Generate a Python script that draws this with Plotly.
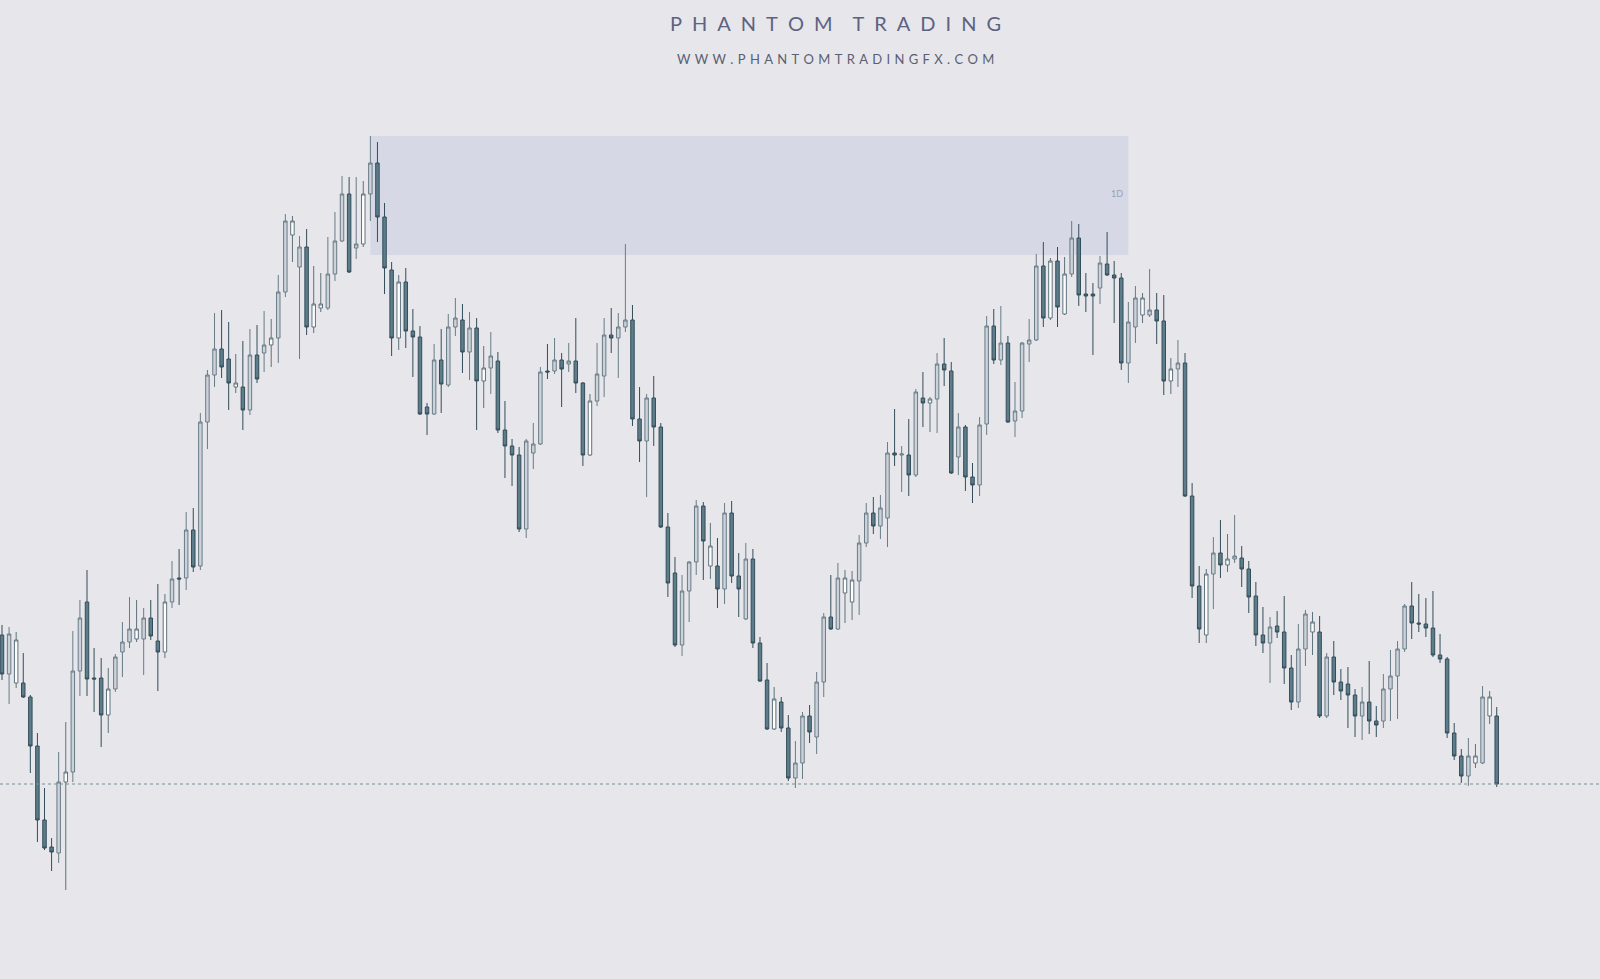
import plotly.graph_objects as go

# ---- data (price units) ----
opens = [365, 326, 317, 317, 303, 254, 180, 153, 147, 218,
         228, 329, 398, 322, 322, 285, 311, 348, 358, 361,
         361, 382, 359, 348, 398, 422, 422, 470, 434, 578,
         625, 651, 641, 613, 613, 590, 645, 647, 655, 662,
         708, 765, 733, 753, 673, 692, 692, 726, 759, 806,
         752, 756, 806, 837, 783, 730, 662, 718, 669, 663,
         593, 586, 640, 615, 673, 680, 648, 672, 619, 632,
         639, 570, 554, 545, 471, 547, 556, 629, 629, 640,
         636, 639, 617, 545, 599, 624, 665, 662, 673, 680,
         581, 559, 602, 573, 473, 427, 355, 409, 438, 494,
         434, 434, 411, 487, 424, 381, 441, 357, 320, 271,
         298, 272, 222, 237, 284, 263, 318, 383, 371, 407,
         398, 419, 457, 487, 474, 482, 547, 545, 545, 525,
         602, 597, 601, 636, 629, 543, 573, 523, 515, 576,
         674, 640, 657, 579, 589, 656, 660, 734, 682, 739,
         686, 726, 762, 706, 706, 712, 736, 725, 722, 637,
         673, 685, 685, 690, 679, 619, 631, 637, 504, 414,
         365, 426, 447, 435, 441, 442, 431, 404, 365, 357,
         374, 368, 332, 298, 351, 368, 368, 284, 343, 318,
         316, 305, 284, 298, 279, 279, 311, 324, 351, 394,
         377, 376, 372, 345, 341, 267, 244, 224, 237, 237,
         284, 284]
highs = [375, 373, 368, 347, 305, 267, 212, 162, 248, 278,
         369, 400, 430, 352, 342, 332, 346, 378, 403, 400,
         392, 400, 416, 406, 439, 451, 488, 492, 587, 630,
         687, 690, 678, 646, 659, 671, 675, 689, 681, 725,
         786, 784, 764, 771, 734, 727, 763, 788, 824, 823,
         823, 819, 864, 858, 797, 738, 725, 732, 691, 674,
         597, 656, 671, 686, 702, 696, 688, 682, 654, 668,
         648, 599, 561, 553, 561, 577, 633, 656, 662, 647,
         657, 682, 618, 606, 657, 682, 692, 687, 756, 695,
         613, 606, 624, 577, 487, 443, 425, 439, 500, 498,
         477, 462, 497, 499, 447, 457, 451, 363, 337, 313,
         303, 285, 259, 288, 295, 328, 387, 425, 437, 430,
         429, 465, 497, 503, 505, 558, 591, 554, 581, 611,
         628, 603, 647, 662, 638, 587, 575, 537, 583, 684,
         691, 694, 664, 618, 658, 681, 746, 758, 742, 753,
         743, 779, 776, 727, 717, 744, 768, 739, 727, 698,
         714, 707, 731, 707, 705, 642, 660, 647, 517, 434,
         431, 463, 480, 466, 485, 454, 439, 418, 393, 383,
         389, 404, 345, 376, 390, 388, 384, 347, 359, 331,
         333, 311, 313, 339, 294, 326, 350, 359, 396, 418,
         406, 402, 409, 366, 343, 277, 251, 262, 256, 314,
         309, 293]
lows = [320, 296, 312, 302, 227, 158, 150, 129, 137, 110,
        218, 304, 304, 288, 253, 267, 308, 323, 352, 358,
        325, 360, 309, 342, 392, 395, 410, 428, 430, 551,
        613, 622, 590, 607, 570, 585, 617, 628, 633, 637,
        703, 738, 641, 665, 667, 688, 690, 719, 758, 727,
        741, 753, 779, 758, 706, 644, 650, 652, 623, 585,
        565, 585, 587, 613, 664, 627, 620, 570, 592, 606,
        567, 522, 514, 468, 462, 531, 555, 621, 626, 593,
        628, 607, 534, 544, 594, 603, 647, 622, 668, 574,
        538, 503, 554, 472, 403, 353, 344, 378, 425, 420,
        421, 392, 396, 417, 383, 380, 352, 318, 270, 270,
        268, 219, 212, 221, 257, 246, 303, 370, 370, 377,
        380, 385, 453, 466, 461, 453, 534, 508, 504, 523,
        573, 568, 567, 614, 526, 525, 509, 497, 504, 565,
        636, 635, 577, 563, 582, 638, 659, 673, 680, 673,
        685, 723, 694, 688, 645, 696, 724, 677, 630, 617,
        657, 677, 683, 656, 605, 606, 613, 503, 402, 357,
        357, 391, 422, 428, 437, 413, 387, 354, 347, 317,
        362, 316, 290, 292, 334, 345, 282, 282, 305, 300,
        272, 263, 260, 266, 263, 272, 279, 281, 348, 361,
        368, 363, 343, 337, 262, 240, 217, 214, 232, 236,
        276, 213]
closes = [326, 366, 360, 303, 254, 180, 152, 148, 218, 228,
          329, 382, 321, 321, 285, 311, 343, 358, 371, 371,
          382, 364, 348, 398, 421, 421, 470, 433, 578, 625,
          651, 633, 617, 617, 590, 645, 621, 655, 662, 708,
          779, 779, 753, 673, 696, 696, 726, 759, 806, 728,
          756, 806, 837, 783, 732, 662, 718, 669, 663, 586,
          586, 640, 616, 673, 682, 648, 672, 619, 632, 644,
          570, 554, 545, 471, 559, 556, 628, 628, 640, 631,
          639, 617, 545, 599, 626, 665, 662, 673, 680, 581,
          559, 602, 573, 473, 417, 355, 409, 438, 494, 459,
          454, 411, 487, 424, 411, 441, 357, 319, 271, 301,
          272, 222, 237, 284, 268, 318, 383, 371, 422, 422,
          420, 457, 487, 474, 492, 547, 545, 546, 525, 608,
          597, 601, 636, 630, 527, 573, 523, 515, 575, 674,
          640, 657, 578, 589, 657, 660, 734, 682, 739, 693,
          726, 762, 705, 704, 704, 737, 725, 722, 637, 678,
          702, 702, 690, 679, 619, 631, 637, 504, 414, 371,
          426, 447, 435, 441, 444, 431, 403, 365, 357, 373,
          368, 332, 298, 351, 386, 378, 284, 343, 318, 309,
          305, 284, 298, 279, 275, 311, 324, 351, 394, 377,
          376, 372, 345, 341, 267, 244, 224, 244, 244, 303,
          303, 216]

# candles drawn with a white (hollow-looking) body
hollow = [2, 9, 15, 19, 23, 33, 38, 41, 44, 45, 51, 56, 68, 83, 100, 109,
          119, 120, 131, 148, 150, 161, 165, 170, 173, 185, 208, 210]

# supply zone (candle index range and price range)
zone_start, zone_end = 52, 159
zone_top, zone_bottom = 864, 745
zone_label = "1D"

title = "PHANTOM TRADING"
subtitle = "WWW.PHANTOMTRADINGFX.COM"

# ---- figure ----
n = len(opens)
idx = list(range(n))
hollow_set = set(hollow)
bear = [i for i in idx if closes[i] < opens[i]]
bull_gray = [i for i in idx if closes[i] >= opens[i] and i not in hollow_set]
bull_white = [i for i in idx if closes[i] >= opens[i] and i in hollow_set]


def candles(sel, fill, line):
    style = dict(fillcolor=fill, line=dict(color=line, width=1))
    return go.Candlestick(
        x=sel,
        open=[opens[i] for i in sel],
        high=[highs[i] for i in sel],
        low=[lows[i] for i in sel],
        close=[closes[i] for i in sel],
        increasing=style, decreasing=style,
        whiskerwidth=0, hoverinfo="skip", showlegend=False,
    )


fig = go.Figure()
fig.add_trace(candles(bull_gray, "#cdd1d9", "#687c86"))
fig.add_trace(candles(bull_white, "#ffffff", "#5e727c"))
fig.add_trace(candles(bear, "#5e7d8b", "#334d59"))

bg = "#e6e6eb"
fig.add_shape(type="rect", xref="x", yref="y", x0=zone_start, x1=zone_end,
              y0=zone_bottom, y1=zone_top, fillcolor="#d6d8e5",
              line=dict(width=0), layer="below")
fig.add_shape(type="line", xref="paper", yref="y", x0=0, x1=1,
              y0=closes[-1], y1=closes[-1],
              line=dict(color="#7a8f98", width=1, dash="dot"))

fig.add_annotation(x=zone_end, y=807, xref="x", yref="y", text=zone_label,
                   showarrow=False, xanchor="right", xshift=-3,
                   font=dict(family="Lato", size=9, color="#9ca0b0"))

sp = "\u2002"
t = (sp * 2).join(sp.join(w) for w in title.split(" "))
fig.add_annotation(x=0.522, y=1 - 23 / 979, xref="paper", yref="paper",
                   text=t, showarrow=False, xanchor="center", yanchor="middle",
                   font=dict(family="Lato", size=20, color="#5d6282"))
fig.add_annotation(x=0.522, y=1 - 59 / 979, xref="paper", yref="paper",
                   text="\u2004".join(subtitle), showarrow=False,
                   xanchor="center", yanchor="middle",
                   font=dict(family="Lato", size=13, color="#5a5f72"))

fig.update_layout(
    width=1600, height=979,
    margin=dict(l=0, r=0, t=0, b=0),
    paper_bgcolor=bg, plot_bgcolor=bg,
    xaxis=dict(visible=False, range=[-0.282, 225.58],
               rangeslider=dict(visible=False), fixedrange=True),
    yaxis=dict(visible=False, range=[21, 1000], fixedrange=True),
    boxmode="overlay",
    showlegend=False,
)

fig.write_html("out.html", config={"displayModeBar": False},
               post_script="document.body.style.margin='0';")
